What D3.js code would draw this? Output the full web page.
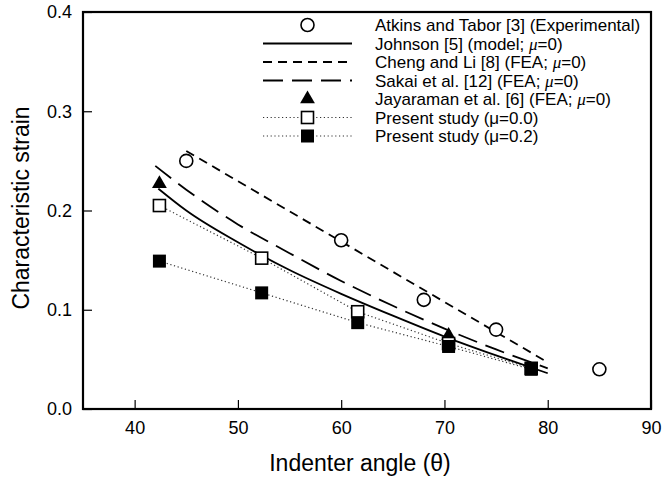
<!DOCTYPE html>
<html><head><meta charset="utf-8">
<script src="https://cdn.jsdelivr.net/npm/d3@7"></script>
<style>
body{margin:0;background:#fff;}
text{font-family:"Liberation Sans",Arial,sans-serif;fill:#000;}
</style></head>
<body><svg id="c" width="664" height="478"></svg>
<script>
// ---- data ----
const atkinsAngle = [45, 60, 68, 75, 85];
const atkinsStrain = [0.25, 0.17, 0.11, 0.08, 0.04];
const johnsonAngle = [42.3, 45, 50, 55, 60, 65, 70, 75, 80];
const johnsonStrain = [0.222, 0.200, 0.168, 0.140, 0.116, 0.094, 0.073, 0.054, 0.036];
const chengAngle = [45, 80];
const chengStrain = [0.26, 0.047];
const sakaiAngle = [42, 45, 50, 55, 60, 65, 70, 75, 80];
const sakaiStrain = [0.245, 0.221, 0.186, 0.157, 0.129, 0.104, 0.081, 0.060, 0.041];
const jayaAngle = [42.4, 70.4];
const jayaStrain = [0.227, 0.074];
const presentAngle = [42.4, 52.3, 61.6, 70.4, 78.4];
const present0Strain = [0.205, 0.152, 0.098, 0.066, 0.041];
const present2Strain = [0.149, 0.117, 0.087, 0.063, 0.040];
const xTicks = [40, 50, 60, 70, 80, 90];
const yTicks = [0.0, 0.1, 0.2, 0.3, 0.4];
// [text before μ, italic μ?, text after μ]
const legendLabels = [
  ["Atkins and Tabor [3] (Experimental)", null, ""],
  ["Johnson [5] (model; ", "μ", "=0)"],
  ["Cheng and Li [8] (FEA; ", "μ", "=0)"],
  ["Sakai et al. [12] (FEA; ", "μ", "=0)"],
  ["Jayaraman et al. [6] (FEA; ", "μ", "=0)"],
  ["Present study (μ=0.0)", null, ""],
  ["Present study (μ=0.2)", null, ""]
];

const svg = d3.select("#c");
const L = 83, T = 12, R = 651, B = 409;
const x = d3.scaleLinear().domain([35, 90]).range([L, R]);
const y = d3.scaleLinear().domain([0, 0.4]).range([B, T]);

// axes
const gx = svg.append("g").attr("transform", `translate(0,${B})`)
  .call(d3.axisBottom(x).tickValues(xTicks).tickSize(-9).tickPadding(12).tickFormat(d3.format("d")));
const gy = svg.append("g").attr("transform", `translate(${L},0)`)
  .call(d3.axisLeft(y).tickValues(yTicks).tickSize(-9).tickPadding(11).tickFormat(d3.format(".1f")));
[gx, gy].forEach(g => {
  g.select(".domain").remove();
  g.selectAll(".tick line").attr("stroke", "#000").attr("stroke-width", 1.2);
  g.selectAll(".tick text").attr("font-size", 18).attr("font-family", "Liberation Sans, Arial, sans-serif");
});
gx.selectAll(".tick text").attr("dy", "0.71em");
// frame
svg.append("rect").attr("x", L).attr("y", T).attr("width", R - L).attr("height", B - T)
  .attr("fill", "none").attr("stroke", "#000").attr("stroke-width", 2.2);

// axis labels
svg.append("text").attr("x", 360).attr("y", 471).attr("text-anchor", "middle")
  .attr("font-size", 23).text("Indenter angle (θ)");
svg.append("text").attr("transform", "translate(29,208) rotate(-90)").attr("text-anchor", "middle")
  .attr("font-size", 23).text("Characteristic strain");

const line = d3.line().x(d => x(d[0])).y(d => y(d[1]));
const zip = (a, b) => a.map((v, i) => [v, b[i]]);

// lines
svg.append("path").datum(zip(presentAngle, present0Strain)).attr("d", line)
  .attr("fill", "none").attr("stroke", "#333").attr("stroke-width", 1.2).attr("stroke-dasharray", "1.2,2.6");
svg.append("path").datum(zip(presentAngle, present2Strain)).attr("d", line)
  .attr("fill", "none").attr("stroke", "#333").attr("stroke-width", 1.2).attr("stroke-dasharray", "1.2,2.6");
const curve = d3.line().x(d => x(d[0])).y(d => y(d[1])).curve(d3.curveMonotoneX);
svg.append("path").datum(zip(johnsonAngle, johnsonStrain)).attr("d", curve)
  .attr("fill", "none").attr("stroke", "#000").attr("stroke-width", 1.8);
svg.append("path").datum(zip(chengAngle, chengStrain)).attr("d", line)
  .attr("fill", "none").attr("stroke", "#000").attr("stroke-width", 1.8).attr("stroke-dasharray", "9,6");
svg.append("path").datum(zip(sakaiAngle, sakaiStrain)).attr("d", curve)
  .attr("fill", "none").attr("stroke", "#000").attr("stroke-width", 1.8).attr("stroke-dasharray", "20,9");

// markers
const sym = (type, size) => d3.symbol().type(type).size(size);
svg.selectAll(".atk").data(zip(atkinsAngle, atkinsStrain)).join("circle")
  .attr("cx", d => x(d[0])).attr("cy", d => y(d[1])).attr("r", 6.5)
  .attr("fill", "#fff").attr("stroke", "#000").attr("stroke-width", 1.6);
svg.selectAll(".jay").data(zip(jayaAngle, jayaStrain)).join("path")
  .attr("transform", d => `translate(${x(d[0])},${y(d[1])})`)
  .attr("d", sym(d3.symbolTriangle, 95)).attr("fill", "#000");
svg.selectAll(".p0").data(zip(presentAngle, present0Strain)).join("rect")
  .attr("x", d => x(d[0]) - 6).attr("y", d => y(d[1]) - 6).attr("width", 12).attr("height", 12)
  .attr("fill", "#fff").attr("stroke", "#000").attr("stroke-width", 1.6);
svg.selectAll(".p2").data(zip(presentAngle, present2Strain)).join("rect")
  .attr("x", d => x(d[0]) - 6.5).attr("y", d => y(d[1]) - 6.5).attr("width", 13).attr("height", 13)
  .attr("fill", "#000");

// legend
const lg = svg.append("g");
const rowY = i => 25 + i * 18.5;
const sx0 = 263, sx1 = 352, sc = 307.5;
lg.append("circle").attr("cx", sc).attr("cy", rowY(0)).attr("r", 6.5).attr("fill", "#fff").attr("stroke", "#000").attr("stroke-width", 1.6);
lg.append("line").attr("x1", sx0).attr("x2", sx1).attr("y1", rowY(1)).attr("y2", rowY(1)).attr("stroke", "#000").attr("stroke-width", 1.8);
lg.append("line").attr("x1", sx0).attr("x2", sx1).attr("y1", rowY(2)).attr("y2", rowY(2)).attr("stroke", "#000").attr("stroke-width", 1.8).attr("stroke-dasharray", "9,6");
lg.append("line").attr("x1", sx0).attr("x2", sx1).attr("y1", rowY(3)).attr("y2", rowY(3)).attr("stroke", "#000").attr("stroke-width", 1.8).attr("stroke-dasharray", "20,9");
lg.append("path").attr("transform", `translate(${sc},${rowY(4)})`).attr("d", sym(d3.symbolTriangle, 95)).attr("fill", "#000");
[5, 6].forEach(i => {
  lg.append("line").attr("x1", sx0).attr("x2", sx1).attr("y1", rowY(i)).attr("y2", rowY(i))
    .attr("stroke", "#333").attr("stroke-width", 1.2).attr("stroke-dasharray", "1.2,2.6");
});
lg.append("rect").attr("x", sc - 6).attr("y", rowY(5) - 6).attr("width", 12).attr("height", 12).attr("fill", "#fff").attr("stroke", "#000").attr("stroke-width", 1.6);
lg.append("rect").attr("x", sc - 6.5).attr("y", rowY(6) - 6.5).attr("width", 13).attr("height", 13).attr("fill", "#000");
legendLabels.forEach((t, i) => {
  const tx = lg.append("text").attr("x", 375).attr("y", rowY(i)).attr("dy", "0.36em").attr("font-size", 17);
  tx.append("tspan").text(t[0]);
  if (t[1]) tx.append("tspan").attr("font-style", "italic").attr("font-family", "Liberation Serif, serif").text(t[1]);
  if (t[2]) tx.append("tspan").text(t[2]);
});
</script>
</body></html>
